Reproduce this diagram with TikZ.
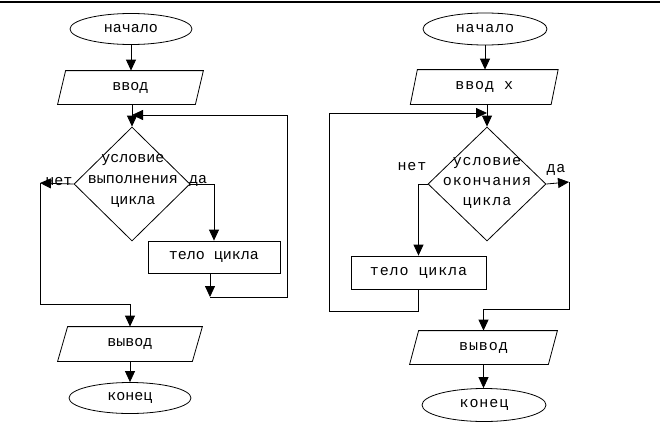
\documentclass[tikz,border=0pt]{standalone}
\usepackage{fontspec}
\setmainfont{Liberation Mono}
\newfontfamily\spaced[LetterSpace=6]{Liberation Mono}
\usetikzlibrary{shapes.geometric,arrows.meta}
\begin{document}
\begin{tikzpicture}[x=1pt,y=-1pt,line width=0.8pt,
  font=\fontsize{15}{21}\selectfont,
  term/.style={ellipse,draw,inner sep=0pt},
  box/.style={rectangle,draw,inner sep=0pt},
  pbase/.style={rectangle,inner sep=0pt},
  dia/.style={diamond,draw,inner sep=0pt},
  arr/.style={-{Triangle[length=11pt,width=10pt]}},
  lbl/.style={inner sep=0pt,align=center}]
\useasboundingbox (0,0) rectangle (660,431);
\draw[line width=1.5pt] (0,2) -- (660,2);

% ---------- left chart ----------
\node[term,minimum width=122pt,minimum height=31pt] (s1) at (131,29) {начало};
\node[pbase,minimum width=137pt,minimum height=33pt] (in1) at (130.5,87.5) {ввод};
\draw ([xshift=-4pt]in1.south west) -- ([xshift=-4pt]in1.south east) -- ([xshift=4pt]in1.north east) -- ([xshift=4pt]in1.north west) -- cycle;
\node[dia,minimum width=116pt,minimum height=114pt] (d1) at (132,184) {};
\node[lbl] (t1) at (133,181) {условие\\выполнения\\цикла};
\node[box,minimum width=132pt,minimum height=32pt] (b1) at (214,257) {тело цикла};
\node[pbase,minimum width=134pt,minimum height=34pt] (out1) at (130,344) {вывод};
\draw ([xshift=-5pt]out1.south west) -- ([xshift=-5pt]out1.south east) -- ([xshift=5pt]out1.north east) -- ([xshift=5pt]out1.north west) -- cycle;
\node[term,minimum width=122pt,minimum height=31pt] (e1) at (130,398) {конец};
\node[lbl] (no1) at (59,182) {нет};
\node[lbl] (yes1) at (198,181) {да};

\coordinate (c1) at (210,297);
\coordinate (c2) at (287,297);
\coordinate (c3) at (287,115);
\coordinate (n1) at (40,183);
\coordinate (n2) at (40,304);

\draw[arr] (s1.south) -- (s1.south |- in1.north);
\draw[arr] (d1.north |- in1.south) -- (d1.north);
\draw[arr] (d1.east) -| (b1.north);
\draw[arr] (b1.south -| c1) -- (c1);
\draw[arr] (c1) -- (c2) -- (c3) -- (d1.north |- c3);
\draw[arr] (d1.west) -- (n1);
\draw[arr] (n1) -- (n2) -- (out1.north |- n2) -- (out1.north);
\draw[arr] (out1.south) -- (out1.south |- e1.north);

% ---------- right chart ----------
\begin{scope}[font=\fontsize{15}{20}\spaced]
\node[term,minimum width=124pt,minimum height=32pt] (s2) at (485,29) {начало};
\node[pbase,minimum width=140pt,minimum height=34pt] (in2) at (484.25,87) {ввод x};
\draw ([xshift=-3.5pt]in2.south west) -- ([xshift=-3.5pt]in2.south east) -- ([xshift=3.5pt]in2.north east) -- ([xshift=3.5pt]in2.north west) -- cycle;
\node[dia,minimum width=118pt,minimum height=114pt] (d2) at (487,184) {};
\node[lbl] (t2) at (487,183) {условие\\окончания\\цикла};
\node[box,minimum width=135pt,minimum height=33pt] (b2) at (418.5,272.5) {тело цикла};
\node[pbase,minimum width=138pt,minimum height=33pt] (out2) at (483.5,347.5) {вывод};
\draw ([xshift=-4.5pt]out2.south west) -- ([xshift=-4.5pt]out2.south east) -- ([xshift=4.5pt]out2.north east) -- ([xshift=4.5pt]out2.north west) -- cycle;
\node[term,minimum width=124pt,minimum height=33pt] (e2) at (484,405) {конец};
\node[lbl] (no2) at (412,167) {нет};
\node[lbl] (yes2) at (556,170) {да};
\end{scope}

\coordinate (r1) at (419,311);
\coordinate (r2) at (329,311);
\coordinate (r3) at (329,113);
\coordinate (y1) at (569,182);
\coordinate (y2) at (569,309);

\draw[arr] (s2.south) -- (s2.south |- in2.north);
\draw[arr] (d2.north |- in2.south) -- (d2.north);
\draw[arr] (b2.south) -- (b2.south |- r1) -- (r2) -- (r3) -- (d2.north |- r3);
\draw[arr] (d2.west) -| (b2.north);
\draw[arr] (d2.east) -- (y1);
\draw[arr] (y1) -- (y2) -- (out2.north |- y2) -- (out2.north);
\draw[arr] (out2.south) -- (out2.south |- e2.north);
\end{tikzpicture}
\end{document}
